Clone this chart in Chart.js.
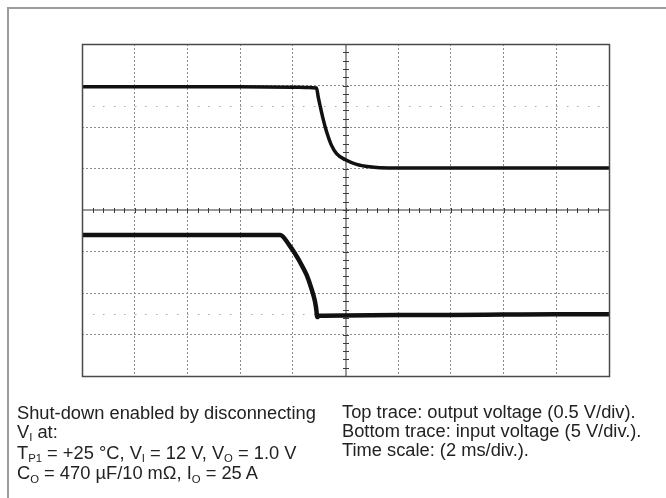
<!DOCTYPE html>
<html>
<head>
<meta charset="utf-8">
<script src="https://cdn.jsdelivr.net/npm/chart.js@4/dist/chart.umd.min.js"></script>
<style>
  html, body { margin: 0; padding: 0; background: #fff; }
  body { width: 666px; height: 498px; position: relative; overflow: hidden; }
  #frame { position: absolute; left: 7px; top: 7px; width: 720px; height: 560px;
           border-left: 2px solid #9c9c9c; border-top: 2px solid #9c9c9c; }
  #scope { position: absolute; left: 0; top: 0; }
  .note { position: absolute; font-family: "Liberation Sans", Arial, sans-serif;
          font-size: 18.3px; line-height: 18.8px; color: #222; white-space: nowrap; }
  .note sub { font-size: 0.62em; vertical-align: baseline; position: relative; top: 0.28em; }
</style>
</head>
<body>
<div id="frame"></div>
<canvas id="scope" width="666" height="498"></canvas>

<div class="note" style="left:17px; top:404px;">
  Shut-down enabled by disconnecting<br>
  V<sub>I</sub> at:<br>
  T<sub>P1</sub> = +25 °C, V<sub>I</sub> = 12 V, V<sub>O</sub> = 1.0 V<br>
  C<sub>O</sub> = 470 µF/10 mΩ, I<sub>O</sub> = 25 A
</div>
<div class="note" style="left:342px; top:403px;">
  Top trace: output voltage (0.5 V/div).<br>
  Bottom trace: input voltage (5 V/div.).<br>
  Time scale: (2 ms/div.).
</div>

<script>
// screen in divisions: 10 across, 8 high
const xDivs = 10;
const yDivs = 8;
const centerX = 5;
const centerY = 4;
const minorStep = 0.2;
const refLevels = [6.5, 1.5];   // dotted marker lines

// top trace: output voltage
const topX = [0, 1, 2, 3, 4, 4.3, 4.45, 4.48, 4.52, 4.57, 4.64, 4.73, 4.83, 5.0, 5.21, 5.46, 5.65, 6, 7, 8, 9, 10];
const topY = [6.97, 6.97, 6.97, 6.97, 6.96, 6.95, 6.94, 6.74, 6.50, 6.22, 5.89, 5.57, 5.36, 5.21, 5.10, 5.04, 5.02, 5.01, 5.01, 5.01, 5.01, 5.01];

// bottom trace: input voltage
const botX = [0, 1, 2, 3, 3.5, 3.76, 3.94, 4.13, 4.26, 4.35, 4.42, 4.45, 4.46, 4.50, 5, 6, 7, 8, 9, 10];
const botY = [3.40, 3.40, 3.40, 3.40, 3.40, 3.40, 3.14, 2.76, 2.44, 2.12, 1.80, 1.56, 1.42, 1.45, 1.46, 1.47, 1.47, 1.48, 1.49, 1.49];

const toPoints = (xs, ys) => xs.map((x, i) => ({ x, y: ys[i] }));

// center axes with minor ticks, dotted marker lines, plot border
const scopeMarks = {
  id: 'scopeMarks',
  beforeDatasetsDraw(chart) {
    const { ctx, chartArea, scales: { x, y } } = chart;
    ctx.save();

    // dotted marker lines, one dot per minor step
    ctx.fillStyle = '#a8a8a8';
    refLevels.forEach(level => {
      const py = Math.round(y.getPixelForValue(level));
      for (let i = 1; i < xDivs / minorStep; i++) {
        ctx.fillRect(Math.round(x.getPixelForValue(i * minorStep)), py, 1.5, 1);
      }
    });

    // center axes
    const cx = Math.round(x.getPixelForValue(centerX));
    const cy = Math.round(y.getPixelForValue(centerY));
    ctx.fillStyle = '#9a9a9a';
    ctx.fillRect(cx - 1, chartArea.top, 2, chartArea.bottom - chartArea.top);
    ctx.fillRect(chartArea.left, cy - 1, chartArea.right - chartArea.left, 2);

    ctx.fillStyle = '#3a3a3a';
    for (let i = 1; i < xDivs / minorStep; i++) {
      const px = Math.round(x.getPixelForValue(i * minorStep));
      ctx.fillRect(px, cy - 2, 1, 5);
    }
    for (let i = 1; i < yDivs / minorStep; i++) {
      const py = Math.round(y.getPixelForValue(i * minorStep));
      ctx.fillRect(cx - 3, py, 6, 1);
    }
    ctx.restore();
  },
  afterDraw(chart) {
    const { ctx, chartArea } = chart;
    ctx.save();
    ctx.strokeStyle = '#4a4a4a';
    ctx.lineWidth = 1.5;
    ctx.strokeRect(chartArea.left + 0.5, chartArea.top + 0.5,
      chartArea.right - chartArea.left, chartArea.bottom - chartArea.top);
    ctx.restore();
  }
};

new Chart(document.getElementById('scope'), {
  type: 'line',
  data: {
    datasets: [
      {
        label: 'Output voltage',
        data: toPoints(topX, topY),
        borderColor: '#111',
        borderWidth: 3.5,
        pointRadius: 0,
        cubicInterpolationMode: 'monotone',
        fill: false,
      },
      {
        label: 'Input voltage',
        data: toPoints(botX, botY),
        borderColor: '#111',
        borderWidth: 4.5,
        pointRadius: 0,
        cubicInterpolationMode: 'monotone',
        fill: false,
      },
    ],
  },
  options: {
    responsive: false,
    devicePixelRatio: 1,
    animation: false,
    layout: { padding: { left: 82, top: 44, right: 57, bottom: 122 } },
    plugins: { legend: { display: false }, tooltip: { enabled: false } },
    scales: {
      x: {
        type: 'linear',
        min: 0,
        max: xDivs,
        ticks: { display: false, stepSize: 1 },
        grid: { color: '#8c8c8c', lineWidth: 1, drawTicks: false },
        border: { display: false, dash: [2, 2] },
      },
      y: {
        type: 'linear',
        min: 0,
        max: yDivs,
        ticks: { display: false, stepSize: 1 },
        grid: { color: '#8c8c8c', lineWidth: 1, drawTicks: false },
        border: { display: false, dash: [2, 2] },
      },
    },
  },
  plugins: [scopeMarks],
});
</script>
</body>
</html>
